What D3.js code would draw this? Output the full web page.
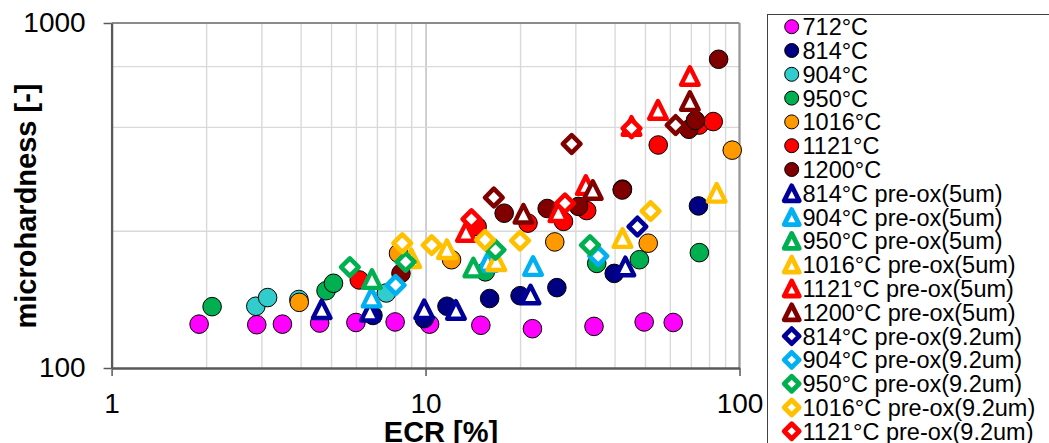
<!DOCTYPE html>
<html>
<head>
<meta charset="utf-8">
<script src="https://cdn.jsdelivr.net/npm/d3@7"></script>
<style>
  body { margin: 0; background: #fff; }
  svg { display: block; font-family: "Liberation Sans", Arial, sans-serif; }
</style>
</head>
<body>
<svg id="chart" width="1049" height="443"></svg>
<script>
// ECR [%] and microhardness readings, one pair of arrays per test series.
// As-received specimens (circles)
const ecr712 = [1.9, 2.9, 3.5, 4.6, 6.0, 8.0, 10.3, 15.0, 21.9, 34.4, 49.7, 61.5];
const hv712  = [134, 133.5, 134, 135, 135.5, 136, 134, 133, 130, 132, 136, 135.5];
const ecr814 = [6.8, 9.9, 11.7, 16.0, 20.0, 26.2, 39.9, 74.0];
const hv814  = [142, 139, 151, 159, 162, 171, 188, 295];
const ecr904 = [2.88, 3.14, 3.95, 7.5];
const hv904  = [151, 160, 158, 165];
const ecr950 = [2.09, 4.82, 5.09, 15.5, 35.1, 48.0, 74.5];
const hv950  = [150.6, 167.5, 176, 190, 201, 206, 216];
const ecr1016 = [3.96, 8.2, 12.1, 25.8, 51.2, 94.8];
const hv1016  = [155, 215, 206, 232, 230, 428];
const ecr1121 = [6.15, 14.6, 21.2, 27.5, 32.6, 42.4, 55.1, 74.4, 82.5];
const hv1121  = [180, 257, 263, 266, 286, 330, 443, 506, 518];
const ecr1200 = [8.35, 17.8, 24.4, 30.7, 42.3, 69.0, 72.4, 85.8];
const hv1200  = [188, 281, 290, 294, 328, 492, 522, 785];

// Pre-oxidised 5 um (triangles)
const ecr814p5 = [4.67, 6.65, 9.9, 12.5, 21.6, 43.3];
const hv814p5  = [148, 145.6, 148, 147.3, 163.3, 197];
const ecr904p5 = [6.73, 15.8, 22.0];
const hv904p5  = [160, 203, 197.5];
const ecr950p5 = [6.75, 14.2];
const hv950p5  = [181, 195.5];
const ecr1016p5 = [9.0, 11.7, 16.8, 42.4, 84.6];
const hv1016p5  = [208, 221, 204, 238, 322];
const ecr1121p5 = [13.45, 26.5, 32.4, 45.3, 55.0, 69.5];
const hv1121p5  = [248, 283, 339, 503, 560, 702];
const ecr1200p5 = [20.5, 34.1, 69.5];
const hv1200p5  = [280, 328, 594];

// Pre-oxidised 9.2 um (diamonds)
const ecr814p9 = [47.3];
const hv814p9  = [257];
const ecr904p9 = [8.03, 35.5];
const hv904p9  = [174, 211];
const ecr950p9 = [5.74, 8.64, 16.7, 33.4];
const hv950p9  = [196, 203, 220, 227];
const ecr1016p9 = [8.43, 10.46, 15.46, 20.0, 52.1];
const hv1016p9  = [230, 227, 235, 234, 285];
const ecr1121p9 = [14.0, 27.8, 45.3];
const hv1121p9  = [270, 300, 495];
const ecr1200p9 = [16.5, 29.2, 62.6];
const hv1200p9  = [312, 446, 506];

// Axis ticks
const xTicks = [1, 10, 100];
const yTicks = [100, 1000];
const xGrid = [2, 3, 4, 5, 6, 7, 8, 9, 20, 30, 40, 50, 60, 70, 80, 90];
const yGrid = [250, 500, 750];

const series = [
  { name: "712°C",  shape: "circle", color: "#FF00FF", xs: ecr712,  ys: hv712 },
  { name: "814°C",  shape: "circle", color: "#000080", xs: ecr814,  ys: hv814 },
  { name: "904°C",  shape: "circle", color: "#33CCCC", xs: ecr904,  ys: hv904 },
  { name: "950°C",  shape: "circle", color: "#00B050", xs: ecr950,  ys: hv950 },
  { name: "1016°C", shape: "circle", color: "#FF9900", xs: ecr1016, ys: hv1016 },
  { name: "1121°C", shape: "circle", color: "#FF0000", xs: ecr1121, ys: hv1121 },
  { name: "1200°C", shape: "circle", color: "#800000", xs: ecr1200, ys: hv1200 },
  { name: "814°C pre-ox(5um)",  shape: "triangle", color: "#000099", xs: ecr814p5,  ys: hv814p5 },
  { name: "904°C pre-ox(5um)",  shape: "triangle", color: "#00B0F0", xs: ecr904p5,  ys: hv904p5 },
  { name: "950°C pre-ox(5um)",  shape: "triangle", color: "#00B050", xs: ecr950p5,  ys: hv950p5 },
  { name: "1016°C pre-ox(5um)", shape: "triangle", color: "#FFC000", xs: ecr1016p5, ys: hv1016p5 },
  { name: "1121°C pre-ox(5um)", shape: "triangle", color: "#FF0000", xs: ecr1121p5, ys: hv1121p5 },
  { name: "1200°C pre-ox(5um)", shape: "triangle", color: "#800000", xs: ecr1200p5, ys: hv1200p5 },
  { name: "814°C pre-ox(9.2um)",  shape: "diamond", color: "#000099", xs: ecr814p9,  ys: hv814p9 },
  { name: "904°C pre-ox(9.2um)",  shape: "diamond", color: "#00B0F0", xs: ecr904p9,  ys: hv904p9 },
  { name: "950°C pre-ox(9.2um)",  shape: "diamond", color: "#00B050", xs: ecr950p9,  ys: hv950p9 },
  { name: "1016°C pre-ox(9.2um)", shape: "diamond", color: "#FFC000", xs: ecr1016p9, ys: hv1016p9 },
  { name: "1121°C pre-ox(9.2um)", shape: "diamond", color: "#FF0000", xs: ecr1121p9, ys: hv1121p9 },
  { name: "1200°C pre-ox(9.2um)", shape: "diamond", color: "#800000", xs: ecr1200p9, ys: hv1200p9 }
];

const plot = { left: 111.6, right: 739.5, top: 23, bottom: 368 };
const x = d3.scaleLog().domain([1, 100]).range([plot.left, plot.right]);
const y = d3.scaleLog().domain([100, 1000]).range([plot.bottom, plot.top]);

const svg = d3.select("#chart");
svg.append("rect").attr("width", 1049).attr("height", 443).attr("fill", "#fff");

// Gridlines
const gx = svg.append("g").attr("transform", `translate(0,${plot.bottom})`)
  .call(d3.axisBottom(x).tickValues(xGrid).tickSize(-(plot.bottom - plot.top)).tickFormat(""));
gx.select(".domain").remove();
gx.selectAll(".tick line").attr("stroke", "#d9d9d9").attr("stroke-width", 1.4);

const gx10 = svg.append("g").attr("transform", `translate(0,${plot.bottom})`)
  .call(d3.axisBottom(x).tickValues([10]).tickSize(-(plot.bottom - plot.top)).tickFormat(""));
gx10.select(".domain").remove();
gx10.selectAll(".tick line").attr("stroke", "#b0b0b0").attr("stroke-width", 1.2);

const gy = svg.append("g").attr("transform", `translate(${plot.left},0)`)
  .call(d3.axisLeft(y).tickValues(yGrid).tickSize(-(plot.right - plot.left)).tickFormat(""));
gy.select(".domain").remove();
gy.selectAll(".tick line").attr("stroke", "#d9d9d9").attr("stroke-width", 1.4);

// Plot frame: top and right borders
svg.append("line").attr("x1", plot.left).attr("x2", plot.right).attr("y1", plot.top).attr("y2", plot.top)
  .attr("stroke", "#8c8c8c").attr("stroke-width", 2);
svg.append("line").attr("x1", plot.right).attr("x2", plot.right).attr("y1", plot.top).attr("y2", plot.bottom)
  .attr("stroke", "#9a9a9a").attr("stroke-width", 2.3);

// Axes
const xAxis = svg.append("g").attr("transform", `translate(0,${plot.bottom})`)
  .call(d3.axisBottom(x).tickValues(xTicks).tickSize(8).tickSizeOuter(0).tickPadding(17).tickFormat(d3.format("d")));
xAxis.select(".domain").attr("stroke", "#595959").attr("stroke-width", 2.3);
xAxis.selectAll(".tick line").attr("stroke", "#595959").attr("stroke-width", 1.5);
xAxis.selectAll(".tick text").attr("font-size", 28).attr("fill", "#000")
  .attr("font-family", "Liberation Sans, Arial, sans-serif");

const yAxis = svg.append("g").attr("transform", `translate(${plot.left},0)`)
  .call(d3.axisLeft(y).tickValues(yTicks).tickSize(8).tickSizeOuter(0).tickPadding(18).tickFormat(d3.format("d")));
yAxis.select(".domain").attr("stroke", "#595959").attr("stroke-width", 2.3);
yAxis.selectAll(".tick line").attr("stroke", "#595959").attr("stroke-width", 1.5);
yAxis.selectAll(".tick text").attr("font-size", 28).attr("fill", "#000")
  .attr("font-family", "Liberation Sans, Arial, sans-serif");

// Axis titles
svg.append("text")
  .attr("transform", "translate(36,206) rotate(-90)")
  .attr("text-anchor", "middle")
  .attr("font-size", 29).attr("font-weight", "bold")
  .text("microhardness [-]");
svg.append("text")
  .attr("x", 441).attr("y", 442)
  .attr("text-anchor", "middle")
  .attr("font-size", 29).attr("font-weight", "bold")
  .text("ECR [%]");

// Marker shapes
function triPath(h) { return `M0,${-h}L${h},${h}L${-h},${h}Z`; }
function diaPath(h) { return `M0,${-h}L${h},0L0,${h}L${-h},0Z`; }

function drawMarker(g, shape, color, big) {
  if (shape === "circle") {
    g.append("circle").attr("r", big ? 9.3 : 7)
      .attr("fill", color).attr("stroke", "#000").attr("stroke-width", 1);
  } else if (shape === "triangle") {
    g.append("path").attr("d", triPath(big ? 8.8 : 7.5))
      .attr("fill", "#fff").attr("stroke", color)
      .attr("stroke-width", big ? 4.4 : 4.8).attr("stroke-linejoin", "round");
  } else {
    g.append("path").attr("d", diaPath(big ? 8.8 : 7.5))
      .attr("fill", "#fff").attr("stroke", color)
      .attr("stroke-width", big ? 4.6 : 4.8).attr("stroke-linejoin", "round");
  }
}

// Data points, series drawn in order
series.forEach(s => {
  const pts = s.xs.map((v, i) => [v, s.ys[i]]);
  svg.append("g").selectAll("g").data(pts).join("g")
    .attr("transform", d => `translate(${x(d[0])},${y(d[1])})`)
    .each(function() { drawMarker(d3.select(this), s.shape, s.color, true); });
});

// Legend
const legend = svg.append("g");
legend.append("rect").attr("x", 767.5).attr("y", 14.5).attr("width", 320).attr("height", 460)
  .attr("fill", "#fff").attr("stroke", "#404040").attr("stroke-width", 1);
const rowH = 23.8;
series.forEach((s, i) => {
  const cy = 26.7 + i * rowH;
  const g = legend.append("g").attr("transform", `translate(791.7,${cy})`);
  drawMarker(g, s.shape, s.color, false);
  legend.append("text").attr("x", 802.5).attr("y", cy + 8.4)
    .attr("font-size", 23.5).attr("fill", "#000").text(s.name);
});
</script>
</body>
</html>
